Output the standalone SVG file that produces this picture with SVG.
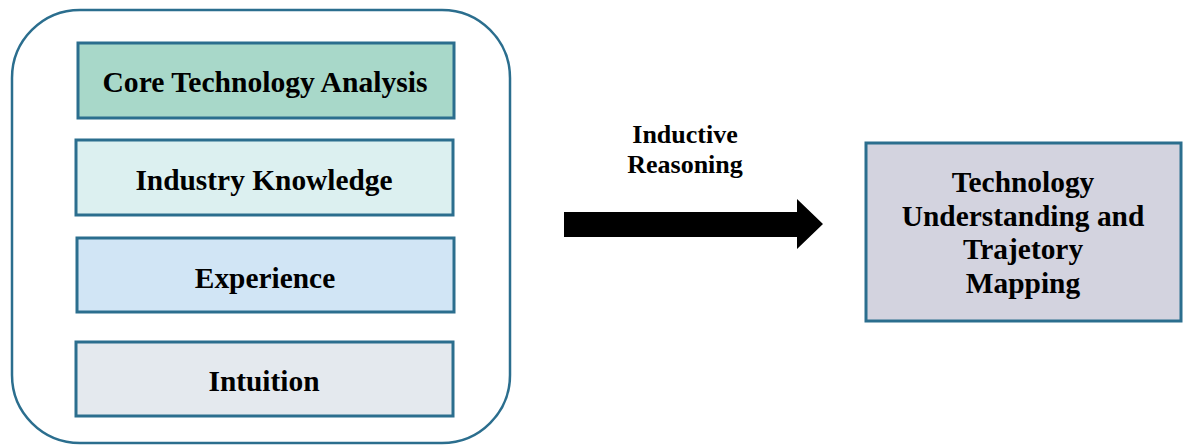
<svg xmlns="http://www.w3.org/2000/svg" width="1183" height="446" viewBox="0 0 1183 446">
  <style>
    .frame { fill: #ffffff; stroke: #2b6e8e; stroke-width: 2.5; }
    .box { stroke: #2b6e8e; stroke-width: 3; }
    .lbl { font-family: "Liberation Serif", "Times New Roman", serif; font-weight: bold; fill: #000000; text-anchor: middle; }
    .big { font-size: 29.6px; }
    .mid { font-size: 29.4px; }
    .small { font-size: 26px; }
  </style>
  <rect width="1183" height="446" fill="#ffffff"/>

  <!-- container of input factors -->
  <g id="inputs">
    <rect class="frame" x="12" y="10" width="498" height="433" rx="68" ry="68"/>
  </g>

  <g id="core-technology-analysis">
    <rect class="box" x="78" y="43" width="376" height="75" fill="#a8d8c9"/>
    <text class="lbl big" x="265" y="92">Core Technology Analysis</text>
  </g>

  <g id="industry-knowledge">
    <rect class="box" x="76" y="140" width="377" height="75" fill="#dcf0f0"/>
    <text class="lbl mid" x="264" y="190">Industry Knowledge</text>
  </g>

  <g id="experience">
    <rect class="box" x="77" y="238" width="377" height="74" fill="#d1e5f5"/>
    <text class="lbl mid" x="265" y="288">Experience</text>
  </g>

  <g id="intuition">
    <rect class="box" x="76" y="342" width="377" height="74" fill="#e4e9ee"/>
    <text class="lbl mid" x="264" y="391">Intuition</text>
  </g>

  <!-- connector: block arrow with its label -->
  <g id="connectors">
    <polygon points="564,212 797,212 797,199 823,224 797,249 797,237 564,237" fill="#000000"/>
    <text class="lbl small" x="685" y="143">Inductive</text>
    <text class="lbl small" x="685" y="173">Reasoning</text>
  </g>

  <g id="outcome">
    <rect class="box" x="866" y="143" width="315" height="178" fill="#d3d3df"/>
    <text class="lbl mid" x="1023" y="192">Technology</text>
    <text class="lbl mid" x="1023" y="226">Understanding and</text>
    <text class="lbl mid" x="1023" y="259">Trajetory</text>
    <text class="lbl mid" x="1023" y="293">Mapping</text>
  </g>
</svg>
